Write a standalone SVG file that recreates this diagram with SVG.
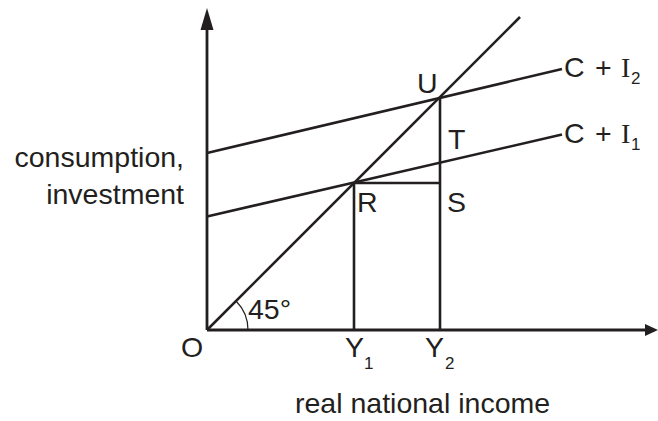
<svg xmlns="http://www.w3.org/2000/svg" width="658" height="421" viewBox="0 0 658 421">
<style>
.ln{stroke:#231f20;stroke-width:2.6;fill:none;stroke-linecap:butt}
.ax{stroke:#231f20;stroke-width:2.8;fill:none}
.t{font-family:"Liberation Sans",Arial,Helvetica,sans-serif;font-size:28.5px;fill:#231f20}
.sub{font-family:"Liberation Sans",Arial,Helvetica,sans-serif;font-size:17px;fill:#231f20}
.ser{font-family:"Liberation Serif","Times New Roman",serif;font-size:28px;fill:#231f20}
</style>
<rect width="658" height="421" fill="#ffffff"/>
<g id="axes">
<line class="ax" x1="207" y1="330" x2="207" y2="28"/>
<polygon points="207,8 200.5,30 213.5,30" fill="#231f20"/>
<line class="ax" x1="207" y1="330" x2="646" y2="330"/>
<polygon points="658,330 645,324 645,336" fill="#231f20"/>
</g>
<g id="connectors">
<line class="ln" x1="207" y1="330" x2="520" y2="17"/>
<line class="ln" x1="207" y1="153" x2="562" y2="69"/>
<line class="ln" x1="207" y1="216.5" x2="562" y2="134.5"/>
<line class="ln" x1="354" y1="182.5" x2="354" y2="330"/>
<line class="ln" x1="440" y1="97.5" x2="440" y2="330"/>
<line class="ln" x1="354" y1="183" x2="440" y2="183"/>
<path d="M236,301 A41,41 0 0 1 248,330" stroke="#231f20" stroke-width="1.2" fill="none"/>
</g>
<g id="labels">
<text class="t" x="184" y="167" text-anchor="end">consumption,</text>
<text class="t" x="184" y="204" text-anchor="end">investment</text>
<text class="t" x="295" y="413">real national income</text>
<text class="t" x="181" y="357">O</text>
<g id="y1"><text class="t" x="345" y="357">Y</text><text class="sub" x="364" y="369">1</text></g>
<g id="y2"><text class="t" x="425" y="357">Y</text><text class="sub" x="445" y="369">2</text></g>
<text class="t" x="248" y="319">45°</text>
<text class="t" x="417" y="92.5">U</text>
<text class="t" x="448" y="149">T</text>
<text class="t" x="447" y="212">S</text>
<text class="t" x="357" y="212">R</text>
<g id="ci2"><text class="t" x="564" y="77">C</text><text class="t" x="595" y="77">+</text><text class="ser" x="621" y="77">I</text><text class="sub" x="631" y="84">2</text></g>
<g id="ci1"><text class="t" x="564" y="143">C</text><text class="t" x="595" y="143">+</text><text class="ser" x="621" y="143">I</text><text class="sub" x="631" y="150">1</text></g>
</g>
</svg>
